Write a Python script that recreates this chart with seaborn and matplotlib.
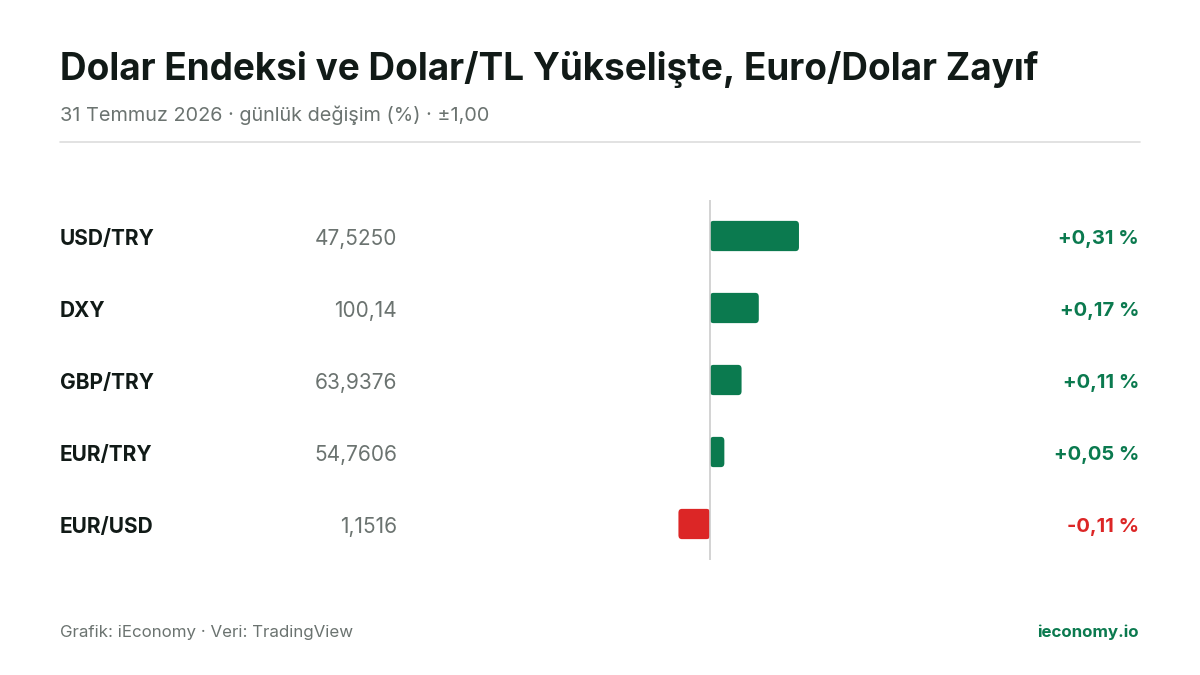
import matplotlib
matplotlib.use("Agg")
import matplotlib.pyplot as plt
import seaborn as sns
import pandas as pd
from matplotlib.patches import FancyBboxPatch

pairs = ["USD/TRY", "DXY", "GBP/TRY", "EUR/TRY", "EUR/USD"]
prices = ["47,5250", "100,14", "63,9376", "54,7606", "1,1516"]
changes = [0.31, 0.17, 0.11, 0.05, -0.11]
change_labels = ["+0,31 %", "+0,17 %", "+0,11 %", "+0,05 %", "-0,11 %"]

GREEN = "#0b7a4f"
RED = "#dc2626"
DARK = "#111a17"
GRAY = "#6b7370"

sns.set_theme(style="white")
plt.rcParams['font.family'] = ['Inter', 'DejaVu Sans']

W, H = 1200, 675
fig = plt.figure(figsize=(12, 6.75), dpi=100)
def fx(px): return px / W
def fy(py): return 1 - py / H

fig.text(fx(60), fy(69), "Dolar Endeksi ve Dolar/TL Yükselişte, Euro/Dolar Zayıf",
         fontsize=26.6, fontweight="bold", color=DARK, va="center", ha="left")
fig.text(fx(60), fy(115), "31 Temmuz 2026 · günlük değişim (%) · ±1,00",
         fontsize=14.3, color=GRAY, va="center", ha="left")
fig.add_artist(plt.Line2D([fx(60), fx(1140)], [fy(142), fy(142)], color="#dddddd", lw=1.2))

ax = fig.add_axes([fx(423), fy(560), fx(997) - fx(423), (560 - 200) / H])
df = pd.DataFrame({"pair": pairs, "chg": changes})
colors = [GREEN if c >= 0 else RED for c in changes]
sns.barplot(data=df, x="chg", y="pair", hue="pair", palette=colors, legend=False,
            orient="h", width=0.42, saturation=1, ax=ax)
for p in list(ax.patches):
    x, y, w, h = p.get_x(), p.get_y(), p.get_width(), p.get_height()
    fc = p.get_facecolor()
    p.remove()
    x0 = min(x, x + w)
    ax.add_patch(FancyBboxPatch((x0, y), abs(w), h,
                 boxstyle="round,pad=0,rounding_size=0.012",
                 mutation_aspect=4.5, fc=fc, ec="none"))
ax.set_xlim(-1, 1)
ax.set_ylim(4.5, -0.5)
ax.axvline(0, color="#cccccc", lw=1.2)
ax.axis("off")

for i in range(len(pairs)):
    yy = 239 + 72 * i
    fig.text(fx(60), fy(yy), pairs[i], fontsize=15, fontweight="bold", color=DARK, va="center")
    fig.text(fx(397), fy(yy), prices[i], fontsize=15, color=GRAY, va="center", ha="right")
    fig.text(fx(1139), fy(yy), change_labels[i], fontsize=14.5, fontweight="bold",
             color=GREEN if changes[i] >= 0 else RED, va="center", ha="right")

fig.text(fx(60), fy(632), "Grafik: iEconomy · Veri: TradingView", fontsize=12.2, color=GRAY, va="center")
fig.text(fx(1139), fy(632), "ieconomy.io", fontsize=12.2, fontweight="bold", color=GREEN,
         va="center", ha="right")

fig.savefig("out.png", dpi=100, facecolor="white")
